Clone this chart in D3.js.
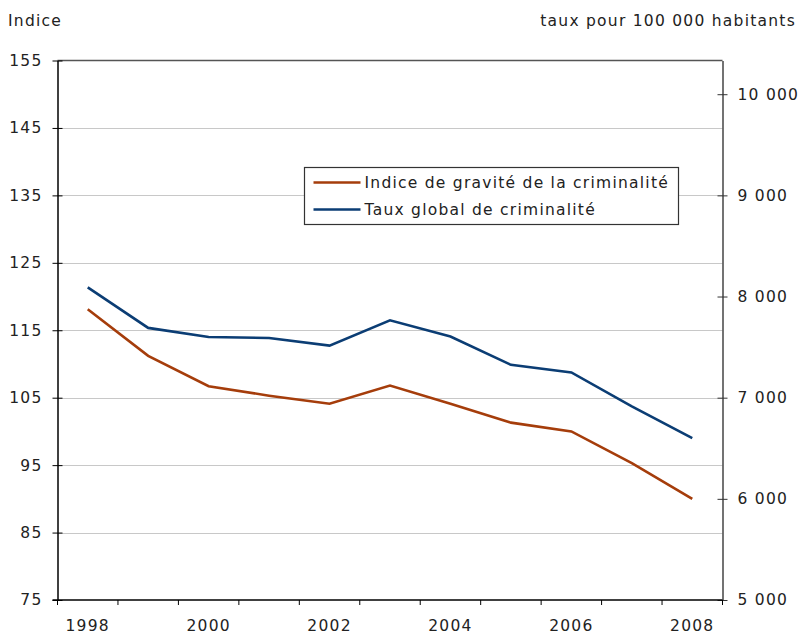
<!DOCTYPE html>
<html>
<head>
<meta charset="utf-8">
<script src="https://cdn.jsdelivr.net/npm/d3@7.9.0/dist/d3.min.js"></script>
<style>
  body { margin: 0; background: #fff; }
  svg { display: block; font-family: Verdana, "DejaVu Sans", sans-serif; }
  text { letter-spacing: 1.25px; }
</style>
</head>
<body>
<svg id="chart" width="800" height="633"></svg>
<script>
// data
const years = ['1998', '1999', '2000', '2001', '2002', '2003', '2004', '2005', '2006', '2007', '2008'];
const yearLabels = ['1998', '2000', '2002', '2004', '2006', '2008'];
const severityIndex = [118.1, 111.2, 106.7, 105.3, 104.1, 106.8, 104.1, 101.3, 100.0, 95.3, 90.0];
const crimeRate = [8090, 7690, 7600, 7590, 7515, 7765, 7605, 7325, 7250, 6915, 6600];
const leftTicks = [75, 85, 95, 105, 115, 125, 135, 145, 155];
const rightTicks = [5000, 6000, 7000, 8000, 9000, 10000];
const seriesNames = ['Indice de gravité de la criminalité', 'Taux global de criminalité'];
const seriesColors = ['#a53d0b', '#0b3d74'];

const svg = d3.select('#chart');
const plotLeft = 57.5, plotRight = 722.5, plotTop = 60.5, plotBottom = 600;

const x = d3.scaleBand().domain(years).range([plotLeft, plotRight]);
const yLeft = d3.scaleLinear().domain([75, 155]).range([plotBottom, plotTop]);
const yRight = d3.scaleLinear().domain([5000, 10333.3]).range([plotBottom, plotTop]);

const fmt = (d) => d3.format(',')(d).replace(',', ' ');

// gridlines
svg.append('g')
  .selectAll('line')
  .data(leftTicks.slice(1, -1))
  .join('line')
  .attr('x1', plotLeft).attr('x2', plotRight)
  .attr('y1', (d) => Math.round(yLeft(d)) + 0.5)
  .attr('y2', (d) => Math.round(yLeft(d)) + 0.5)
  .attr('stroke', '#c8c8c8');

// top border
svg.append('line')
  .attr('x1', plotLeft).attr('x2', plotRight)
  .attr('y1', plotTop).attr('y2', plotTop)
  .attr('stroke', '#555').attr('stroke-width', 1.5);

// left axis
const gLeft = svg.append('g')
  .attr('transform', `translate(${plotLeft},0)`)
  .call(d3.axisLeft(yLeft).tickValues(leftTicks).tickSize(0).tickPadding(15));
gLeft.select('.domain').attr('stroke', '#000').attr('stroke-width', 1.5);
gLeft.selectAll('.tick line').attr('x1', -5).attr('x2', 5).attr('stroke', '#000');
gLeft.selectAll('.tick text').attr('font-size', 15.5).attr('fill', '#222')
  .attr('font-family', 'Verdana, "DejaVu Sans", sans-serif');

// right axis
const gRight = svg.append('g')
  .attr('transform', `translate(${plotRight},0)`)
  .call(d3.axisRight(yRight).tickValues(rightTicks).tickFormat(fmt).tickSize(0).tickPadding(15));
gRight.select('.domain').attr('stroke', '#444').attr('stroke-width', 1.5);
gRight.selectAll('.tick line').attr('x1', -5).attr('x2', 5).attr('stroke', '#333');
gRight.selectAll('.tick text').attr('font-size', 15.5).attr('fill', '#222')
  .attr('font-family', 'Verdana, "DejaVu Sans", sans-serif');

// bottom axis: ticks between categories, labels every other year
const gBottom = svg.append('g').attr('transform', `translate(0,${plotBottom})`);
gBottom.append('line')
  .attr('x1', plotLeft - 5).attr('x2', plotRight)
  .attr('stroke', '#000').attr('stroke-width', 1.5);
gBottom.selectAll('line.tk')
  .data(years.concat(['end']))
  .join('line')
  .attr('class', 'tk')
  .attr('x1', (d, i) => plotLeft + i * x.step())
  .attr('x2', (d, i) => plotLeft + i * x.step())
  .attr('y1', 0).attr('y2', 5)
  .attr('stroke', '#000');
gBottom.selectAll('text')
  .data(yearLabels)
  .join('text')
  .attr('x', (d) => x(d) + x.bandwidth() / 2)
  .attr('y', 30.5)
  .attr('text-anchor', 'middle')
  .attr('font-size', 15.5)
  .attr('fill', '#222')
  .text((d) => d);

// lines
const lineLeft = d3.line().x((d, i) => x(years[i]) + x.bandwidth() / 2).y((d) => yLeft(d));
const lineRight = d3.line().x((d, i) => x(years[i]) + x.bandwidth() / 2).y((d) => yRight(d));

svg.append('path')
  .datum(severityIndex)
  .attr('d', lineLeft)
  .attr('fill', 'none')
  .attr('stroke', seriesColors[0])
  .attr('stroke-width', 2.6);

svg.append('path')
  .datum(crimeRate)
  .attr('d', lineRight)
  .attr('fill', 'none')
  .attr('stroke', seriesColors[1])
  .attr('stroke-width', 2.6);

// axis titles
svg.append('text')
  .attr('x', 8).attr('y', 26)
  .attr('font-size', 15.5).attr('fill', '#222')
  .text('Indice');
svg.append('text')
  .attr('x', 796).attr('y', 26)
  .attr('text-anchor', 'end')
  .attr('font-size', 15.5).attr('fill', '#222')
  .text('taux pour 100 000 habitants');

// legend
const legend = svg.append('g').attr('transform', 'translate(304.5,167.5)');
legend.append('rect')
  .attr('width', 374).attr('height', 57)
  .attr('fill', '#fff').attr('stroke', '#333').attr('stroke-width', 1.2);
const items = legend.selectAll('g.item')
  .data(seriesNames)
  .join('g')
  .attr('class', 'item')
  .attr('transform', (d, i) => `translate(0,${15 + i * 27})`);
items.append('line')
  .attr('x1', 9).attr('x2', 56)
  .attr('stroke', (d, i) => seriesColors[i])
  .attr('stroke-width', 2.6);
items.append('text')
  .attr('x', 60).attr('y', 5.5)
  .attr('font-size', 15.5).attr('fill', '#222')
  .text((d) => d);
</script>
</body>
</html>
